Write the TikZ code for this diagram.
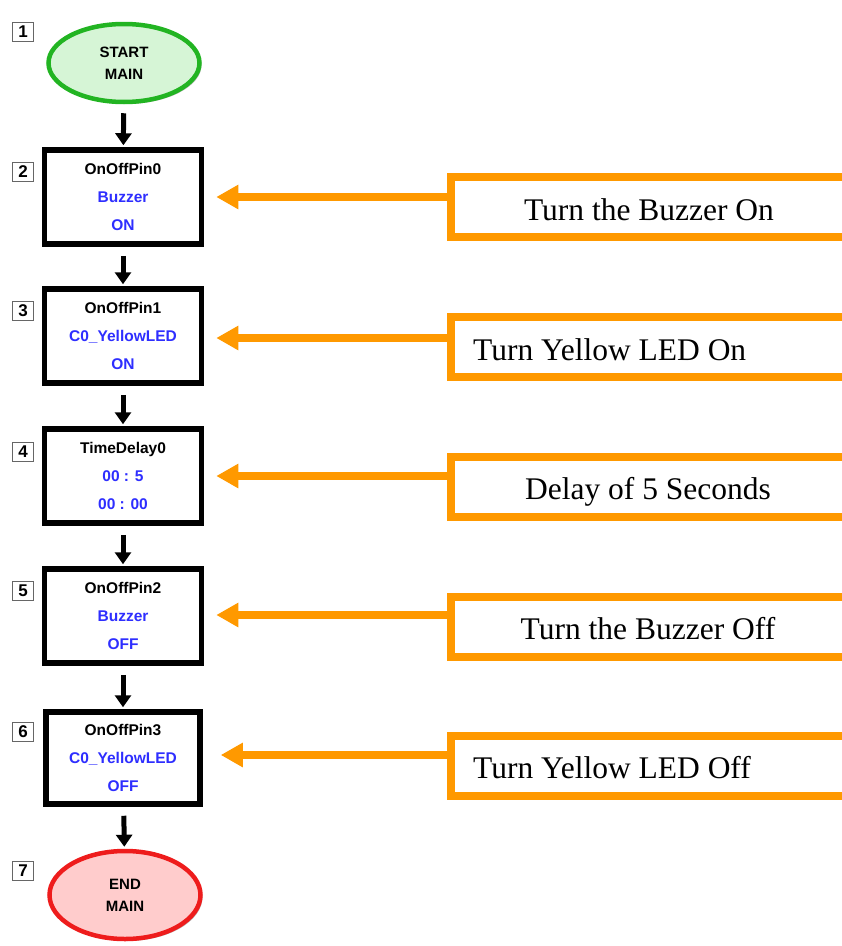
\documentclass[tikz,border=0pt]{standalone}
\usepackage{fontspec}
\setmainfont{Liberation Serif}
\setsansfont{Liberation Sans}
\usetikzlibrary{arrows.meta,shapes.geometric,shadows}
\definecolor{orng}{HTML}{FF9900}
\definecolor{grn}{HTML}{22B422}
\definecolor{lgrn}{HTML}{D6F5D6}
\definecolor{rd}{HTML}{EE1C1C}
\definecolor{lrd}{HTML}{FFCCCC}
\definecolor{blu}{HTML}{2E2EFF}
\tikzset{
  stepbox/.style={draw=black, line width=5.5bp, fill=white, minimum width=157bp, minimum height=94bp,
    inner sep=0pt, align=center, font=\sffamily\bfseries\fontsize{15.5bp}{28bp}\selectfont,
    drop shadow={shadow xshift=2bp, shadow yshift=-2bp, fill=black!45, opacity=0.6}},
  termnode/.style={ellipse, line width=4.5bp, minimum width=151bp, minimum height=78bp, inner sep=0pt,
    align=center, font=\sffamily\bfseries\fontsize{15bp}{22bp}\selectfont,
    drop shadow={shadow xshift=2bp, shadow yshift=-2bp, fill=black!45, opacity=0.6}},
  numbox/.style={draw=black!60, line width=1.5bp, fill=white, minimum width=21bp, minimum height=19bp,
    inner sep=0pt, font=\sffamily\bfseries\fontsize{17bp}{17bp}\selectfont},
  flowarrow/.style={line width=5bp, -{Triangle[width=16bp,length=12bp]}, shorten <=9bp, shorten >=2bp},
  callbox/.style={draw=orng, line width=8bp, minimum width=430bp, minimum height=60.5bp, inner sep=0pt, anchor=west},
  callarrow/.style={draw=orng, line width=8bp, -{Triangle[width=23bp,length=22bp]}, shorten >=12bp},
  calltext/.style={inner sep=0pt, font=\fontsize{31.5bp}{36bp}\selectfont}
}
\begin{document}
\begin{tikzpicture}[x=1bp,y=-1bp]
\path[use as bounding box] (0,0) rectangle (842,946);
\clip (0,0) rectangle (842,946);

% step numbers
\node[numbox] (n1) at (23,32) {1};
\node[numbox] (n2) at (23,172) {2};
\node[numbox] (n3) at (23,311) {3};
\node[numbox] (n4) at (23,452) {4};
\node[numbox] (n5) at (23,591) {5};
\node[numbox] (n6) at (23,732) {6};
\node[numbox] (n7) at (23,871) {7};

% flow nodes
\node[termnode, draw=grn, fill=lgrn] (s1) at (124,63) {START\\MAIN};
\node[stepbox] (b2) at (123,197) {OnOffPin0\\\textcolor{blu}{Buzzer}\\\textcolor{blu}{ON}};
\node[stepbox] (b3) at (123,336) {OnOffPin1\\\textcolor{blu}{C0\_YellowLED}\\\textcolor{blu}{ON}};
\node[stepbox] (b4) at (123,476) {TimeDelay0\\\textcolor{blu}{00 : 5}\\\textcolor{blu}{00 : 00}};
\node[stepbox] (b5) at (123,616) {OnOffPin2\\\textcolor{blu}{Buzzer}\\\textcolor{blu}{OFF}};
\node[stepbox, minimum width=154bp, minimum height=92bp] (b6) at (123,758) {OnOffPin3\\\textcolor{blu}{C0\_YellowLED}\\\textcolor{blu}{OFF}};
\node[termnode, draw=rd, fill=lrd, minimum height=88bp] (e7) at (125,895) {END\\MAIN};

% flow arrows
\draw[flowarrow] (s1) -- (b2);
\draw[flowarrow] (b2) -- (b3);
\draw[flowarrow] (b3) -- (b4);
\draw[flowarrow] (b4) -- (b5);
\draw[flowarrow] (b5) -- (b6);
\draw[flowarrow] (b6) -- (e7);

% callouts
\node[callbox] (cA) at (447,207) {};
\node[callbox] (cB) at (447,347) {};
\node[callbox] (cC) at (447,487) {};
\node[callbox] (cD) at (447,627) {};
\node[callbox] (cE) at (447,766) {};

\node[calltext, anchor=base] (tA) at (649,220) {Turn the Buzzer On};
\node[calltext, anchor=base west] (tB) at (473,360) {Turn Yellow LED On};
\node[calltext, anchor=base] (tC) at (648,499) {Delay of 5 Seconds};
\node[calltext, anchor=base] (tD) at (648,639) {Turn the Buzzer Off};
\node[calltext, anchor=base west] (tE) at (473,778) {Turn Yellow LED Off};

\draw[callarrow] ([yshift=10bp]cA.west) -- ([yshift=10bp]cA.west -| b2.east);
\draw[callarrow] ([yshift=9bp]cB.west) -- ([yshift=9bp]cB.west -| b3.east);
\draw[callarrow] ([yshift=11bp]cC.west) -- ([yshift=11bp]cC.west -| b4.east);
\draw[callarrow] ([yshift=12bp]cD.west) -- ([yshift=12bp]cD.west -| b5.east);
\draw[callarrow, shorten >=18bp] ([yshift=11bp]cE.west) -- ([yshift=11bp]cE.west -| b6.east);
\end{tikzpicture}
\end{document}
